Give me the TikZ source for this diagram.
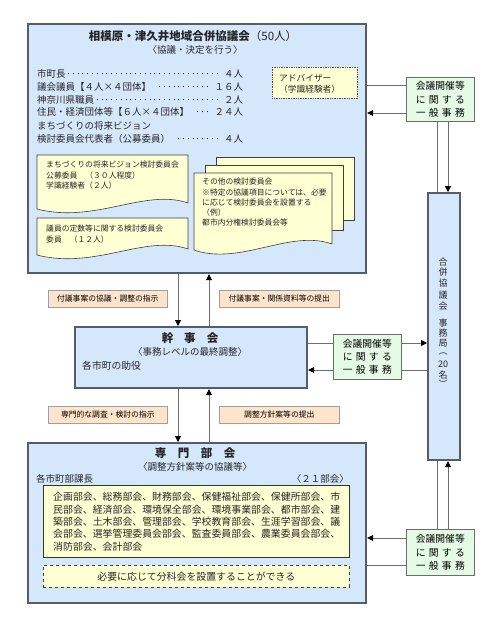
\documentclass[tikz,border=0pt]{standalone}
\usepackage{fontspec}
\setmainfont{Noto Sans CJK JP}
\usetikzlibrary{arrows.meta}
\XeTeXlinebreaklocale "ja"
\definecolor{boxblue}{HTML}{D5E7FB}
\definecolor{boxedge}{HTML}{555E68}
\definecolor{peach}{HTML}{FDE4CA}
\definecolor{mint}{HTML}{E6FBE6}
\definecolor{lemon}{HTML}{FFFFD4}
\definecolor{lineg}{HTML}{6E6E6E}
\newcommand\fsz[1]{\fontsize{#1}{#1}\selectfont}
\newcommand\spreadline[1]{\hbox to 49pt{#1}}
\newcommand\mdots{\leaders\hbox to 4.8pt{\hss\rule[3.2pt]{1pt}{1pt}\hss}\hfill}
\tikzset{
  mainbox/.style={draw=boxedge, line width=2.2pt, fill=boxblue, inner sep=0pt},
  labelbox/.style={draw=gray!75, fill=peach, line width=0.6pt, font=\fsz{7.8}, inner sep=0pt},
  greenbox/.style={draw=gray!85!black, fill=mint, line width=0.6pt, align=center, inner sep=0pt,
     font=\fontsize{9.8}{13.3}\selectfont, minimum width=68pt},
  conn/.style={draw=lineg, line width=0.8pt},
  arr/.style={conn, -{Triangle[length=6pt,width=6pt,color=black,fill=black]}},
  doc/.style={draw=gray!50!black, fill=lemon, line width=0.6pt},
  txt/.style={inner sep=0pt, text=black!85},
  listtxt/.style={txt, anchor=west, font=\fsz{9.5}},
  smalltxt/.style={txt, anchor=west, font=\fsz{7.8}},
  vchar/.style={txt, font=\fsz{9}},
}
\begin{document}
\begin{tikzpicture}[x=1pt,y=-1pt]
\useasboundingbox (0,0) rectangle (500,627);
\fill[white] (0,0) rectangle (500,627);

% helper coordinates
\coordinate (xa) at (178,0);
\coordinate (xb) at (209,0);
\coordinate (xc) at (437,0);
\coordinate (xd) at (448,0);
\coordinate (y85) at (0,85);
\coordinate (y113) at (0,113);
\coordinate (y343) at (0,343);
\coordinate (y370) at (0,370);
\coordinate (y538) at (0,538);
\coordinate (y565) at (0,565);

% main boxes
\node[mainbox, anchor=north west, minimum width=338pt, minimum height=249pt] (kyogikai) at (27,23) {};
\node[mainbox, anchor=north west, minimum width=232pt, minimum height=61pt] (kanji) at (74,326) {};
\node[mainbox, anchor=north west, minimum width=338pt, minimum height=160pt] (senmon) at (27,442) {};
\node[mainbox, anchor=north west, minimum width=32pt, minimum height=267pt] (jimu) at (427,192) {};

% green boxes
\node[greenbox, anchor=north west, minimum height=44pt] (g1) at (406,77)
  {会議開催等\\\spreadline{に\hfill 関\hfill す\hfill る}\\\spreadline{一\hfill 般\hfill 事\hfill 務}};
\node[greenbox, anchor=north west, minimum height=45pt] (g2) at (333,334)
  {会議開催等\\\spreadline{に\hfill 関\hfill す\hfill る}\\\spreadline{一\hfill 般\hfill 事\hfill 務}};
\node[greenbox, anchor=north west, minimum height=46pt] (g3) at (406,529)
  {会議開催等\\\spreadline{に\hfill 関\hfill す\hfill る}\\\spreadline{一\hfill 般\hfill 事\hfill 務}};

% connectors
\draw[conn] (kyogikai.east |- y85) -- (g1.west |- y85);
\draw[arr] (g1.west |- y113) -- (kyogikai.east |- y113);
\draw[conn] (g1.south -| xc) -- (jimu.north -| xc);
\draw[arr] (g1.south -| xd) -- (jimu.north -| xd);
\draw[conn] (kanji.east |- y343) -- (g2.west |- y343);
\draw[arr] (g2.east |- y343) -- (jimu.west |- y343);
\draw[conn] (jimu.west |- y370) -- (g2.east |- y370);
\draw[arr] (g2.west |- y370) -- (kanji.east |- y370);
\draw[conn] (jimu.south -| xc) -- (g3.north -| xc);
\draw[arr] (g3.north -| xd) -- (jimu.south -| xd);
\draw[arr] (g3.west |- y538) -- (senmon.east |- y538);
\draw[conn] (senmon.east |- y565) -- (g3.west |- y565);
\draw[arr] (kyogikai.south -| xa) -- (kanji.north -| xa);
\draw[arr] (kanji.north -| xb) -- (kyogikai.south -| xb);
\draw[arr] (kanji.south -| xa) -- (senmon.north -| xa);
\draw[arr] (senmon.north -| xb) -- (kanji.south -| xb);

% label boxes
\node[labelbox, anchor=north west, minimum width=119pt, minimum height=17pt] (l1) at (48,290) {付議事案の協議・調整の指示};
\node[labelbox, anchor=north west, minimum width=120pt, minimum height=17pt] (l2) at (219,290) {付議事案・関係資料等の提出};
\node[labelbox, anchor=north west, minimum width=119pt, minimum height=17pt] (l3) at (48,406) {専門的な調査・検討の指示};
\node[labelbox, anchor=north west, minimum width=120pt, minimum height=17pt] (l4) at (219,406) {調整方針案等の提出};

% ---- top box contents
\node[txt, font=\fsz{11.5}] (t1) at (193,36) {\textbf{相模原・津久井地域合併協議会}（50人）};
\node[txt, font=\fsz{9.5}] (t2) at (195,50) {〈協議・決定を行う〉};
\node[listtxt] (m1) at (37,74) {\hbox to 206pt{市町長\mdots ４人}};
\node[listtxt] (m2) at (37,87) {\hbox to 206pt{議会議員【４人×４団体】\hspace{6pt}\mdots １６人}};
\node[listtxt] (m3) at (37,100) {\hbox to 206pt{神奈川県職員\mdots ２人}};
\node[listtxt] (m4) at (37,112) {\hbox to 206pt{住民・経済団体等【６人×４団体】\hspace{6pt}\mdots ２４人}};
\node[listtxt] (m5) at (37,126) {まちづくりの将来ビジョン};
\node[listtxt] (m6) at (37,139) {\hbox to 206pt{検討委員会代表者（公募委員）\hspace{6pt}\mdots ４人}};

\node[draw=gray!60!black, densely dotted, fill=lemon, line width=0.7pt, anchor=north west,
      minimum width=85pt, minimum height=31pt, inner sep=0pt] (adv) at (272,67) {};
\node[smalltxt, font=\fsz{8.7}] (adv1) at (279,78) {アドバイザー};
\node[smalltxt, font=\fsz{8.7}] (adv2) at (279,89) {（学識経験者）};

% document 1
\filldraw[doc] (37,155) -- (188,155) -- (188,203)
   .. controls (145,188) and (95,224) .. (37,209) -- cycle;
\node[smalltxt] (d1a) at (46,165) {まちづくりの将来ビジョン検討委員会};
\node[smalltxt] (d1b) at (46,176) {公募委員\hspace{8pt}（３０人程度）};
\node[smalltxt] (d1c) at (46,186) {学識経験者（２人）};
% document 2
\filldraw[doc] (37,218) -- (188,218) -- (188,249)
   .. controls (145,234) and (95,270) .. (37,255) -- cycle;
\node[smalltxt] (d2a) at (46,229) {議員の定数等に関する検討委員会};
\node[smalltxt] (d2b) at (46,240) {委員\hspace{8pt}（１２人）};
% multi document
\filldraw[doc] (216,157) rectangle (354,220);
\filldraw[doc] (205,165) rectangle (343,230);
\filldraw[doc] (194,173) -- (332,173) -- (332,244)
   .. controls (290,229) and (240,266) .. (194,250) -- cycle;
\node[smalltxt] (d3a) at (202,182) {その他の検討委員会};
\node[smalltxt] (d3b) at (202,193) {※特定の協議項目については、必要};
\node[smalltxt] (d3c) at (202,203) {に応じて検討委員会を設置する};
\node[smalltxt] (d3d) at (202,213) {（例）};
\node[smalltxt] (d3e) at (202,223) {都市内分権検討委員会等};

% ---- kanji box contents
\node[txt, font=\fsz{11.5}] (k1) at (190,338) {\textbf{幹\hspace{11pt}事\hspace{11pt}会}};
\node[txt, font=\fsz{9.5}] (k2) at (190,352) {〈事務レベルの最終調整〉};
\node[listtxt, font=\fsz{9.8}] (k3) at (82,366) {各市町の助役};

% ---- senmon box contents
\node[txt, font=\fsz{11.5}] (s1) at (195,453) {\textbf{専\hspace{11.5pt}門\hspace{11.5pt}部\hspace{11.5pt}会}};
\node[txt, font=\fsz{9.5}] (s2) at (195,467) {〈調整方針案等の協議等〉};
\node[listtxt, font=\fsz{9.5}] (s3) at (36,479) {各市町部課長};
\node[txt, anchor=east, font=\fsz{9.5}] (s4) at (349,479) {〈２１部会〉};
\filldraw[draw=gray!40!black, fill=lemon, line width=0.8pt] (43,485) rectangle (349,557);
\node[listtxt, font=\fsz{9.9}] (b1) at (53,497) {企画部会、総務部会、財務部会、保健福祉部会、保健所部会、市};
\node[listtxt, font=\fsz{9.9}] (b2) at (53,510) {民部会、経済部会、環境保全部会、環境事業部会、都市部会、建};
\node[listtxt, font=\fsz{9.9}] (b3) at (53,522) {築部会、土木部会、管理部会、学校教育部会、生涯学習部会、議};
\node[listtxt, font=\fsz{9.9}] (b4) at (53,534) {会部会、選挙管理委員会部会、監査委員部会、農業委員会部会、};
\node[listtxt, font=\fsz{9.9}] (b5) at (53,547) {消防部会、会計部会};
\node[draw=gray!50!black, dashed, fill=lemon, line width=0.7pt, anchor=north west,
      minimum width=306pt, minimum height=22pt, inner sep=0pt, font=\fsz{9.9}, text=black!85] (opt) at (43,565)
      {必要に応じて分科会を設置することができる};

% ---- vertical text in jimu
\foreach \ch/\yy [count=\i] in {合/262,併/272.5,協/283.5,議/295,会/306.5,事/323,務/333,局/343,︵/354,20/364.5,名/375,︶/384}
  \node[vchar] (v\i) at (443,\yy) {\ch};
\end{tikzpicture}
\end{document}
